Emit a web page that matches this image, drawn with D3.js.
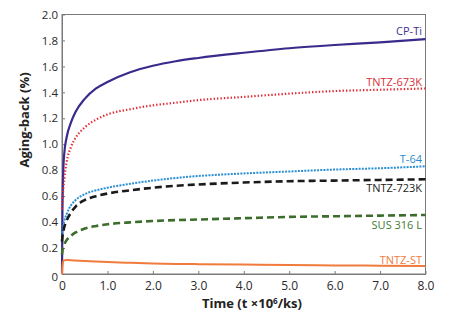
<!DOCTYPE html>
<html><head><meta charset="utf-8">
<script src="https://cdn.jsdelivr.net/npm/d3@7"></script>
<style>body{margin:0;background:#fff}svg{display:block}</style>
</head><body>
<svg id="c" width="450" height="322"></svg>
<script>
const time = [0, 0.01, 0.03, 0.05, 0.1, 0.2, 0.3, 0.5, 0.75, 1, 1.5, 2, 2.5, 3, 4, 5, 6, 7, 8];
const cpTi     = [0, 0.5, 0.82, 0.93, 1.05, 1.17, 1.25, 1.35, 1.43, 1.48, 1.555, 1.605, 1.64, 1.665, 1.705, 1.74, 1.765, 1.785, 1.81];
const tntz673  = [0.5, 0.57, 0.66, 0.73, 0.86, 0.98, 1.05, 1.13, 1.19, 1.23, 1.27, 1.3, 1.32, 1.34, 1.365, 1.39, 1.41, 1.42, 1.43];
const t64      = [0.29, 0.33, 0.38, 0.41, 0.46, 0.53, 0.57, 0.615, 0.645, 0.665, 0.695, 0.72, 0.74, 0.755, 0.775, 0.79, 0.805, 0.815, 0.83];
const tntz723  = [0.25, 0.29, 0.33, 0.36, 0.41, 0.475, 0.52, 0.57, 0.6, 0.62, 0.645, 0.665, 0.68, 0.69, 0.705, 0.715, 0.72, 0.725, 0.73];
const sus316   = [0.15, 0.18, 0.21, 0.23, 0.26, 0.295, 0.32, 0.35, 0.37, 0.383, 0.398, 0.408, 0.415, 0.42, 0.43, 0.44, 0.445, 0.45, 0.455];
const tntzST   = [0, 0.06, 0.1, 0.105, 0.107, 0.106, 0.104, 0.1, 0.096, 0.092, 0.086, 0.081, 0.078, 0.076, 0.073, 0.07, 0.066, 0.064, 0.062];
const seriesNames = ["CP-Ti", "TNTZ-673K", "T-64", "TNTZ-723K", "SUS 316 L", "TNTZ-ST"];
const seriesValues = [cpTi, tntz673, t64, tntz723, sus316, tntzST];
const xTicks = [0, 1, 2, 3, 4, 5, 6, 7, 8];
const yTicks = [0, 0.2, 0.4, 0.6, 0.8, 1.0, 1.2, 1.4, 1.6, 1.8, 2.0];

const styles = [
  {color:"#3a2a8c", width:2.2, dash:null, label:"#3f3190", ly:34.5},
  {color:"#e02a35", width:2.2, dash:"1.4,2", label:"#d9323a", ly:86},
  {color:"#2a8fd4", width:2, dash:"2,1.2", label:"#2b8ccc", ly:162.5},
  {color:"#1a1a1a", width:2.6, dash:"7,4", label:"#222222", ly:191.5},
  {color:"#3c6d2c", width:2.6, dash:"7,4", label:"#3f7a33", ly:229},
  {color:"#f07b3c", width:2, dash:null, label:"#ef7d40", ly:264}
];

const svg = d3.select("#c");
svg.append("rect").attr("width",450).attr("height",322).attr("fill","#fff");
const x = d3.scaleLinear().domain([0,8]).range([62,425.5]);
const y = d3.scaleLinear().domain([0,2]).range([274,14.5]);

svg.append("rect").attr("x",x(0)).attr("y",y(2)).attr("width",x(8)-x(0)).attr("height",y(0)-y(2))
  .attr("fill","none").attr("stroke","#7a7a7a").attr("stroke-width",1);

const fmt = d => d === 0 ? "0" : d3.format(".1f")(d);
const gx = svg.append("g").attr("transform",`translate(0,${y(0)})`)
  .call(d3.axisBottom(x).tickValues(xTicks).tickFormat(fmt).tickSizeInner(-3).tickSizeOuter(0).tickPadding(7));
const gy = svg.append("g").attr("transform",`translate(${x(0)},0)`)
  .call(d3.axisLeft(y).tickValues(yTicks).tickFormat(fmt).tickSizeInner(-3).tickSizeOuter(0).tickPadding(4));
[gx,gy].forEach(g=>{
  g.select(".domain").attr("stroke","#7a7a7a");
  g.selectAll(".tick line").attr("stroke","#7a7a7a");
  g.selectAll("text").attr("fill","#2a2a2a").style("font-family","'Open Sans', sans-serif");
});
gx.selectAll("text").style("font-size","12px");
gy.selectAll("text").style("font-size","11.5px");
gy.selectAll(".tick").filter(d=>d===0).select("text").attr("dy","0.55em");

const line = d3.line().x((d,i)=>x(time[i])).y(d=>y(d)).curve(d3.curveMonotoneX);
seriesValues.forEach((vals,k)=>{
  const s = styles[k];
  svg.append("path").datum(vals).attr("d",line).attr("fill","none")
    .attr("stroke",s.color).attr("stroke-width",s.width)
    .attr("stroke-dasharray",s.dash).attr("stroke-linejoin","round");
  svg.append("text").attr("x",422).attr("y",s.ly).attr("text-anchor","end")
    .attr("fill",s.label).style("font-family","'Open Sans', sans-serif").style("font-size","11px")
    .text(seriesNames[k]);
});

svg.append("text").attr("transform","translate(29,120) rotate(-90)").attr("text-anchor","middle")
  .style("font-family","'Open Sans', sans-serif").style("font-size","13px").style("font-weight","bold")
  .attr("fill","#222").text("Aging-back (%)");
const xt = svg.append("text").attr("x",252).attr("y",307.5).attr("text-anchor","middle")
  .style("font-family","'Open Sans', sans-serif").style("font-size","13px").style("font-weight","bold")
  .attr("fill","#222");
xt.append("tspan").text("Time (t \u00d710");
xt.append("tspan").attr("dy",-4).style("font-size","8px").text("6");
xt.append("tspan").attr("dy",4).text("/ks)");
</script>
</body></html>
